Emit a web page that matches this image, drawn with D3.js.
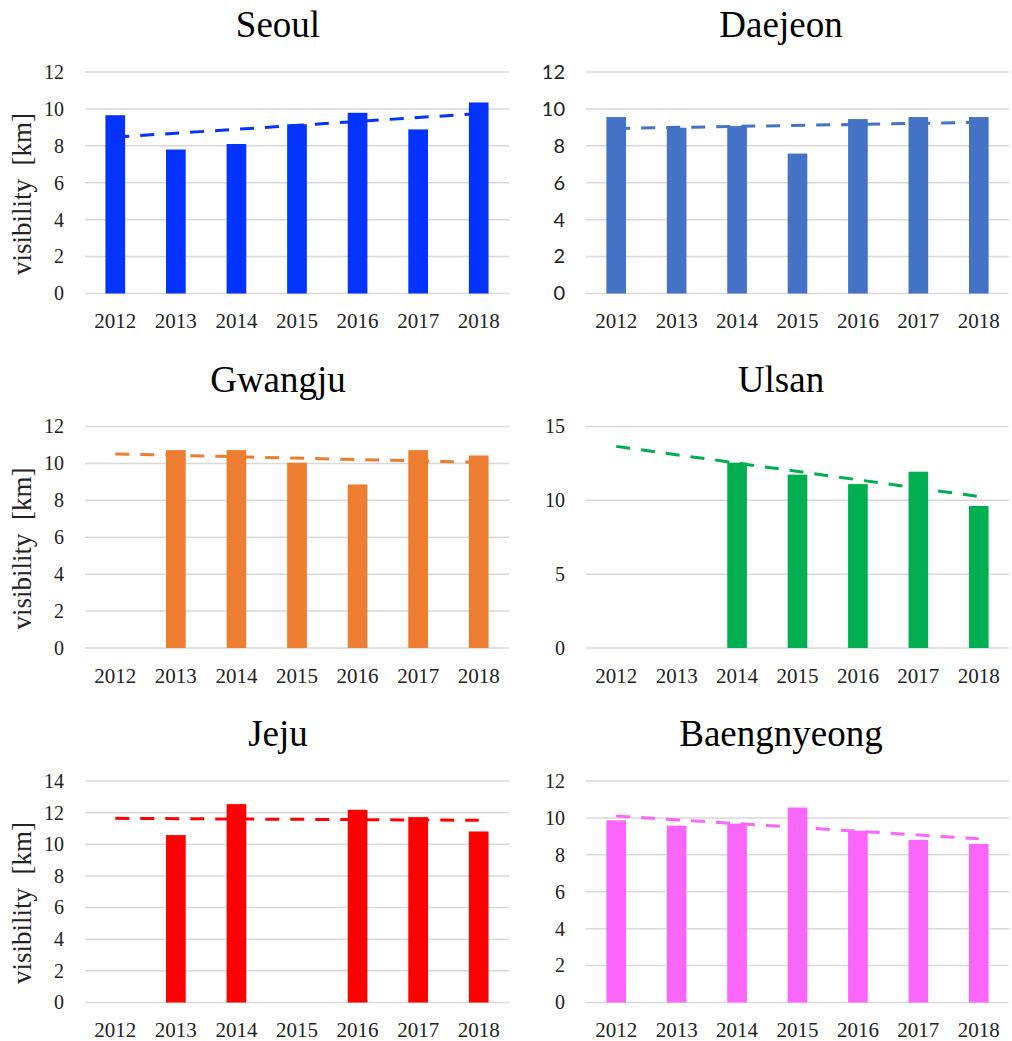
<!DOCTYPE html>
<html>
<head>
<meta charset="utf-8">
<script src="https://cdn.jsdelivr.net/npm/d3@7/dist/d3.min.js"></script>
<style>
  html, body { margin: 0; padding: 0; background: #fff; }
  svg { display: block; }
  .serif { font-family: "Liberation Serif", "Times New Roman", Times, "DejaVu Serif", serif; }
  .sans { font-family: Lato, "Liberation Sans", Arial, sans-serif; }
</style>
</head>
<body>
<div id="chart"></div>
<script>
// years on the x axis
const years = ["2012", "2013", "2014", "2015", "2016", "2017", "2018"];

// annual mean visibility [km], null = no data
const seoul       = [9.66, 7.80, 8.10, 9.17, 9.79, 8.89, 10.35];
const daejeon     = [9.56, 8.98, 9.07, 7.58, 9.45, 9.56, 9.56];
const gwangju     = [null, 10.72, 10.72, 10.04, 8.86, 10.72, 10.43];
const ulsan       = [null, null, 12.55, 11.74, 11.10, 11.94, 9.62];
const jeju        = [null, 10.58, 12.54, null, 12.18, 11.72, 10.81];
const baengnyeong = [9.87, 9.58, 9.69, 10.56, 9.30, 8.81, 8.59];

// y tick values per city
const ticksSeoul = [0, 2, 4, 6, 8, 10, 12];
const ticksDaejeon = [0, 2, 4, 6, 8, 10, 12];
const ticksGwangju = [0, 2, 4, 6, 8, 10, 12];
const ticksUlsan = [0, 5, 10, 15];
const ticksJeju = [0, 2, 4, 6, 8, 10, 12, 14];
const ticksBaeng = [0, 2, 4, 6, 8, 10, 12];

const W = 1012, H = 1041;

const panels = [
  { name: "Seoul",       values: seoul,       ticks: ticksSeoul,   color: "#0433ff", col: 0, row: 0 },
  { name: "Daejeon",     values: daejeon,     ticks: ticksDaejeon, color: "#4472c4", col: 1, row: 0, sansTicks: true },
  { name: "Gwangju",     values: gwangju,     ticks: ticksGwangju, color: "#ed7d31", col: 0, row: 1 },
  { name: "Ulsan",       values: ulsan,       ticks: ticksUlsan,   color: "#00b050", col: 1, row: 1 },
  { name: "Jeju",        values: jeju,        ticks: ticksJeju,    color: "#ff0000", col: 0, row: 2 },
  { name: "Baengnyeong", values: baengnyeong, ticks: ticksBaeng,   color: "#f966f9", col: 1, row: 2 }
];

const svg = d3.select("#chart").append("svg")
  .attr("width", W)
  .attr("height", H)
  .attr("viewBox", `0 0 ${W} ${H}`);

// layout of the 3x2 grid
const colX = [{ x0: 85, x1: 509, title: 278 }, { x0: 586, x1: 1009, title: 781 }];
const rowStep = 354.5;
const plotTop = 72, plotBottom = 293.5, titleBase = 37;

// least squares on the category index, skipping empty years
function trend(values) {
  const pts = values.map((v, i) => [i, v]).filter(d => d[1] != null);
  const mx = d3.mean(pts, d => d[0]), my = d3.mean(pts, d => d[1]);
  const sxy = d3.sum(pts, d => (d[0] - mx) * (d[1] - my));
  const sxx = d3.sum(pts, d => (d[0] - mx) ** 2);
  const b = sxy / sxx, a = my - b * mx;
  return [0, values.length - 1].map(i => [i, a + b * i]);
}

panels.forEach(p => {
  const c = colX[p.col];
  const top = plotTop + p.row * rowStep;
  const bottom = plotBottom + p.row * rowStep;
  const g = svg.append("g");

  const x = d3.scaleBand().domain(years).range([c.x0, c.x1]).padding(0);
  const y = d3.scaleLinear().domain([0, d3.max(p.ticks)]).range([bottom, top]);
  const barW = x.bandwidth() * 0.325;

  // title
  g.append("text")
    .attr("class", "serif")
    .attr("x", c.title)
    .attr("y", titleBase + p.row * rowStep)
    .attr("text-anchor", "middle")
    .style("font-size", "37px")
    .attr("fill", "#000")
    .text(p.name);

  // gridlines
  g.append("g").selectAll("line")
    .data(p.ticks)
    .join("line")
    .attr("x1", c.x0).attr("x2", c.x1)
    .attr("y1", d => y(d)).attr("y2", d => y(d))
    .attr("stroke", "#d9d9d9")
    .attr("stroke-width", 1.5);

  // y axis labels
  const yAxis = d3.axisLeft(y).tickValues(p.ticks).tickSize(0).tickPadding(0);
  const ya = g.append("g").attr("transform", `translate(${c.x0 - 21},0)`).call(yAxis);
  ya.attr("font-family", null).attr("font-size", null);
  ya.select(".domain").remove();
  ya.selectAll("text")
    .attr("class", p.sansTicks ? "sans" : "serif")
    .style("font-size", "20px")
    .attr("fill", "#222");

  // x axis labels
  const xAxis = d3.axisBottom(x).tickSize(0).tickPadding(0);
  const xa = g.append("g").attr("transform", `translate(0,${bottom + 20})`).call(xAxis);
  xa.attr("font-family", null).attr("font-size", null);
  xa.select(".domain").remove();
  xa.selectAll("text")
    .attr("class", "serif")
    .style("font-size", "21px")
    .attr("fill", "#222");

  // bars
  g.append("g").selectAll("rect")
    .data(years.map((yr, i) => ({ yr, v: p.values[i] })).filter(d => d.v != null))
    .join("rect")
    .attr("x", d => x(d.yr) + (x.bandwidth() - barW) / 2)
    .attr("width", barW)
    .attr("y", d => y(d.v))
    .attr("height", d => bottom - y(d.v))
    .attr("fill", p.color);

  // dashed linear trendline
  const line = d3.line()
    .x(d => x(years[d[0]]) + x.bandwidth() / 2)
    .y(d => y(d[1]));
  g.append("path")
    .datum(trend(p.values))
    .attr("d", line)
    .attr("fill", "none")
    .attr("stroke", p.color)
    .attr("stroke-width", 3)
    .attr("stroke-dasharray", "14,11");

  // y axis title on the left column
  if (p.col === 0) {
    g.append("text")
      .attr("class", "serif")
      .attr("transform", `translate(31,${top + 122}) rotate(-90)`)
      .attr("text-anchor", "middle")
      .style("font-size", "27px")
      .style("white-space", "pre")
      .attr("fill", "#222")
      .text("visibility  [km]");
  }
});
</script>
</body>
</html>
